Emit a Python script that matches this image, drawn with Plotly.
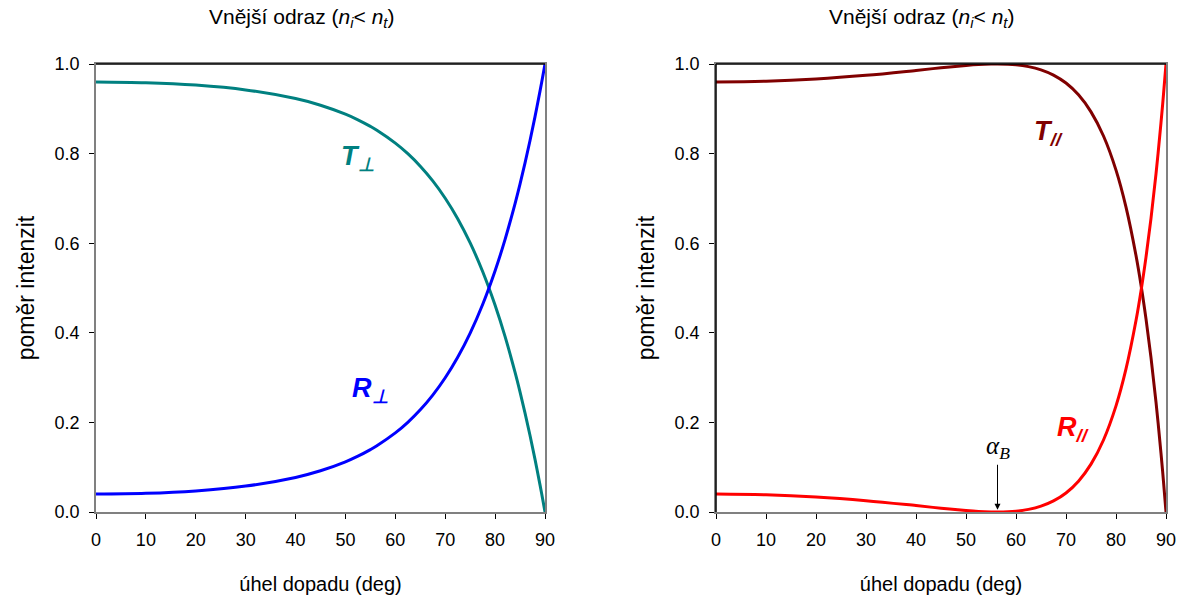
import plotly.graph_objects as go

# angle of incidence (deg)
angles = [0, 10, 20, 30, 40, 45, 50, 52.5, 55, 56.3, 60, 62.5, 65, 67.5, 70, 72.5, 75,
          77.5, 80, 82, 84, 85, 86, 87, 88, 89, 89.5, 90]
# perpendicular polarisation
R_perp = [0.04, 0.0417, 0.0471, 0.0578, 0.0772, 0.0920, 0.1120, 0.1246, 0.1393, 0.1479,
          0.1766, 0.2002, 0.2281, 0.2609, 0.2996, 0.3453, 0.3994, 0.4632, 0.5386, 0.6086,
          0.6884, 0.7323, 0.7793, 0.8293, 0.8826, 0.9395, 0.9693, 1.0]
T_perp = [0.96, 0.9583, 0.9529, 0.9422, 0.9228, 0.9080, 0.8880, 0.8754, 0.8607, 0.8521,
          0.8234, 0.7998, 0.7719, 0.7391, 0.7004, 0.6547, 0.6006, 0.5368, 0.4614, 0.3914,
          0.3116, 0.2677, 0.2207, 0.1707, 0.1174, 0.0605, 0.0307, 0.0]
# parallel polarisation
R_par = [0.04, 0.0384, 0.0335, 0.0253, 0.0143, 0.0085, 0.0033, 0.0013, 0.0002, 0.0,
         0.0018, 0.0058, 0.0130, 0.0247, 0.0425, 0.0688, 0.1068, 0.1607, 0.2368, 0.3193,
         0.4273, 0.4932, 0.5689, 0.6555, 0.7548, 0.8689, 0.9322, 1.0]
T_par = [0.96, 0.9616, 0.9665, 0.9747, 0.9857, 0.9915, 0.9967, 0.9987, 0.9998, 1.0,
         0.9982, 0.9942, 0.9870, 0.9753, 0.9575, 0.9312, 0.8932, 0.8393, 0.7632, 0.6807,
         0.5727, 0.5068, 0.4311, 0.3445, 0.2452, 0.1311, 0.0678, 0.0]
brewster = 56.3

x_ticks = [0, 10, 20, 30, 40, 50, 60, 70, 80, 90]
y_ticks = [0.0, 0.2, 0.4, 0.6, 0.8, 1.0]
title_text = "Vnější odraz (<i>n<sub>i</sub></i>&lt; <i>n<sub>t</sub></i>)"
x_title = "úhel dopadu (deg)"
y_title = "poměr intenzit"

W, H = 1179, 603
FONT = "Liberation Sans, Arial, sans-serif"
TEAL = "#008080"
BLUE = "#0000FF"
DARKRED = "#800000"
RED = "#FF0000"
GRAY = "#808080"

fig = go.Figure()

line_w = 3
spl = dict(shape="spline", smoothing=1.0)
fig.add_trace(go.Scatter(x=angles, y=T_perp, mode="lines", line=dict(color=TEAL, width=line_w, **spl), xaxis="x", yaxis="y", showlegend=False))
fig.add_trace(go.Scatter(x=angles, y=R_perp, mode="lines", line=dict(color=BLUE, width=line_w, **spl), xaxis="x", yaxis="y", showlegend=False))
fig.add_trace(go.Scatter(x=angles, y=T_par, mode="lines", line=dict(color=DARKRED, width=line_w, **spl), xaxis="x2", yaxis="y2", showlegend=False))
fig.add_trace(go.Scatter(x=angles, y=R_par, mode="lines", line=dict(color=RED, width=line_w, **spl), xaxis="x2", yaxis="y2", showlegend=False))

y_dom = [1 - 512 / H, 1 - 64 / H]
x1_dom = [96 / W, 545 / W]
x2_dom = [716 / W, 1166 / W]

def xax(domain, anchor):
    return dict(domain=domain, anchor=anchor, range=[0, 90], tickvals=x_ticks,
                ticks="outside", ticklen=5, tickcolor="#000000", tickwidth=1,
                showline=True, linecolor=GRAY, linewidth=1.5, mirror=True,
                showgrid=False, zeroline=False, automargin=False, ticklabelstandoff=6,
                tickfont=dict(family=FONT, size=18, color="#000000"),
                title=dict(text=x_title, font=dict(family=FONT, size=20, color="#000000"), standoff=28))

def yax(anchor):
    return dict(domain=y_dom, anchor=anchor, range=[0, 1], tickvals=y_ticks, tickformat=".1f",
                ticks="outside", ticklen=5, tickcolor="#000000", tickwidth=1,
                showline=True, linecolor=GRAY, linewidth=1.5, mirror=True,
                showgrid=False, zeroline=False, automargin=False, ticklabelstandoff=6,
                tickfont=dict(family=FONT, size=18, color="#000000"),
                title=dict(text=y_title, font=dict(family=FONT, size=23, color="#000000"), standoff=14))

fig.update_layout(
    width=W, height=H,
    margin=dict(l=0, r=0, t=0, b=0),
    paper_bgcolor="white", plot_bgcolor="white",
    xaxis=xax(x1_dom, "y"), yaxis=yax("x"),
    xaxis2=xax(x2_dom, "y2"), yaxis2=yax("x2"),
)

# top frame lines in black
for xr, yr in [("x domain", "y domain"), ("x2 domain", "y2 domain")]:
    fig.add_shape(type="line", xref=xr, yref=yr, x0=0, x1=1, y0=1, y1=1,
                  line=dict(color="#000000", width=1.5))
fig.add_shape(type="line", xref="x2 domain", yref="y2 domain", x0=0, x1=0, y0=0, y1=1,
              line=dict(color="#000000", width=1.5))

# titles
for cx in [301 / W, 921 / W]:
    fig.add_annotation(text=title_text, xref="paper", yref="paper", x=cx, y=1 - 18 / H,
                       showarrow=False, font=dict(family=FONT, size=21, color="#000000"),
                       xanchor="center", yanchor="middle")

def label(txt, x, y, color, xr, yr):
    fig.add_annotation(text="<b><i>" + txt + "</i></b>", x=x, y=y, xref=xr, yref=yr,
                       showarrow=False, font=dict(family=FONT, size=27, color=color),
                       xanchor="center", yanchor="middle")

label("T<sub>⊥</sub>", 52.5, 0.79, TEAL, "x", "y")
label("R<sub>⊥</sub>", 55, 0.272, BLUE, "x", "y")
label("T<sub>//</sub>", 66.5, 0.846, DARKRED, "x2", "y2")
label("R<sub>//</sub>", 71.4, 0.185, RED, "x2", "y2")

fig.add_annotation(text="<i>α<sub>B</sub></i>", x=brewster, y=0.005, xref="x2", yref="y2",
                   showarrow=True, ax=0, ay=-62, arrowhead=2, arrowsize=1.2, arrowwidth=1,
                   arrowcolor="#000000", standoff=0,
                   font=dict(family="Liberation Serif, DejaVu Serif, serif", size=25, color="#000000"))

fig.write_html("out.html", config={"displayModeBar": False},
               post_script="document.body.style.margin='0';document.body.style.overflow='hidden';")
